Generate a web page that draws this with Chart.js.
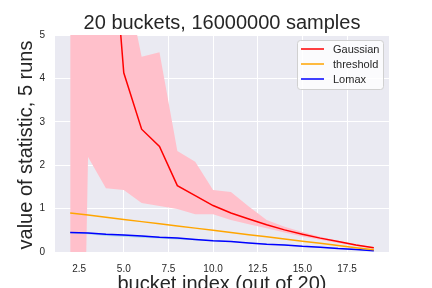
<!DOCTYPE html>
<html lang="en">
<head>
  <meta charset="UTF-8" />
  <title>20 buckets</title>
  <script src="https://cdn.jsdelivr.net/npm/chart.js"></script>
  <style>
    body { margin: 0; background: white; }
    canvas { display: block; }
  </style>
</head>
<body>
  <canvas id="statChart" width="432" height="288"></canvas>

  <script>
    // data
    const buckets = [2, 3, 4, 5, 6, 7, 8, 9, 10, 11, 12, 13, 14, 15, 16, 17, 18, 19];
    const gaussMean = [40, 20, 9.3, 4.13, 2.83, 2.43, 1.53, 1.3, 1.07, 0.9, 0.76, 0.63, 0.51, 0.41, 0.32, 0.24, 0.16, 0.1];
    const gaussLow = [-20, 2.19, 1.47, 1.43, 1.13, 1.06, 0.99, 0.87, 0.87, 0.74, 0.64, 0.55, 0.45, 0.36, 0.28, 0.21, 0.14, 0.08];
    const gaussHigh = [50, 30, 15, 6.5, 4.5, 4.6, 2.33, 2.08, 1.43, 1.38, 1.05, 0.74, 0.58, 0.46, 0.35, 0.26, 0.18, 0.11];
    const threshold = [0.90, 0.85, 0.80, 0.75, 0.70, 0.65, 0.60, 0.55, 0.50, 0.45, 0.40, 0.35, 0.30, 0.25, 0.20, 0.15, 0.10, 0.05];
    const lomaxMean = [0.45, 0.44, 0.41, 0.39, 0.37, 0.34, 0.32, 0.29, 0.26, 0.24, 0.21, 0.18, 0.16, 0.13, 0.11, 0.08, 0.06, 0.03];
    const lomaxLow = [0.43, 0.41, 0.37, 0.35, 0.33, 0.31, 0.29, 0.27, 0.25, 0.23, 0.20, 0.17, 0.15, 0.12, 0.10, 0.07, 0.05, 0.02];
    const lomaxHigh = [0.46, 0.45, 0.42, 0.40, 0.38, 0.35, 0.33, 0.30, 0.27, 0.25, 0.22, 0.19, 0.17, 0.14, 0.12, 0.09, 0.07, 0.04];
    const xTicks = [2.5, 5, 7.5, 10, 12.5, 15, 17.5];
    const yTicks = [0, 1, 2, 3, 4, 5];

    const pts = arr => arr.map((v, i) => ({ x: buckets[i], y: v }));
    const FONT = "'Liberation Sans', Arial, sans-serif";

    // plot background + titles + legend box
    const decor = {
      id: "decor",
      beforeDraw(chart) {
        const { ctx, chartArea: a } = chart;
        ctx.save();
        ctx.fillStyle = "#EAEAF2";
        ctx.fillRect(a.left, a.top, a.right - a.left, a.bottom - a.top);
        ctx.restore();
      },
      afterDraw(chart) {
        const { ctx, chartArea: a } = chart;
        ctx.save();
        ctx.fillStyle = "#262626";
        ctx.font = "20px " + FONT;
        ctx.textAlign = "center";
        ctx.textBaseline = "alphabetic";
        ctx.fillText("20 buckets, 16000000 samples", (a.left + a.right) / 2, 28.5);
        ctx.fillText("bucket index (out of 20)", (a.left + a.right) / 2, 290);
        ctx.save();
        ctx.translate(32, 145);
        ctx.rotate(-Math.PI / 2);
        ctx.fillText("value of statistic, 5 runs", 0, 0);
        ctx.restore();

        // legend
        const bx = 297.5, by = 40.5, bw = 86, bh = 49;
        ctx.beginPath();
        ctx.roundRect(bx, by, bw, bh, 3);
        ctx.fillStyle = "rgba(255,255,255,0.8)";
        ctx.fill();
        ctx.strokeStyle = "#D0D0D0";
        ctx.lineWidth = 1;
        ctx.stroke();
        ctx.font = "11px " + FONT;
        ctx.textAlign = "left";
        ctx.textBaseline = "middle";
        const items = chart.data.datasets.filter(d => d.label);
        items.forEach((d, i) => {
          const y = 49 + i * 15;
          ctx.strokeStyle = d.borderColor;
          ctx.lineWidth = 1.5;
          ctx.beginPath();
          ctx.moveTo(301, y);
          ctx.lineTo(324, y);
          ctx.stroke();
          ctx.fillStyle = "#262626";
          ctx.fillText(d.label, 333, y + 0.5);
        });
        ctx.restore();
      }
    };

    new Chart(document.getElementById("statChart"), {
      type: "line",
      data: {
        datasets: [
          { label: "Gaussian", data: pts(gaussMean), borderColor: "#FF0000", borderWidth: 1.5, pointRadius: 0, order: 0 },
          { label: "threshold", data: pts(threshold), borderColor: "#FFA500", borderWidth: 1.5, pointRadius: 0, order: 0 },
          { label: "Lomax", data: pts(lomaxMean), borderColor: "#0000FF", borderWidth: 1.5, pointRadius: 0, order: 0 },
          { data: pts(gaussHigh), borderWidth: 0, pointRadius: 0, fill: 4, backgroundColor: "#FFC0CB", order: 2 },
          { data: pts(gaussLow), borderWidth: 0, pointRadius: 0, fill: false, order: 2 },
          { data: pts(lomaxHigh), borderWidth: 0, pointRadius: 0, fill: 6, backgroundColor: "#ADD8E6", order: 1 },
          { data: pts(lomaxLow), borderWidth: 0, pointRadius: 0, fill: false, order: 1 }
        ]
      },
      options: {
        responsive: false,
        animation: false,
        devicePixelRatio: 1,
        layout: { padding: { left: 0, right: 43, top: 35, bottom: 0 } },
        plugins: { legend: { display: false }, title: { display: false }, tooltip: { enabled: false } },
        scales: {
          x: {
            type: "linear",
            min: 1.15,
            max: 19.85,
            border: { display: false },
            grid: { color: "#FFFFFF", lineWidth: 1, drawTicks: false },
            ticks: { color: "#262626", font: { family: FONT, size: 10 }, padding: 11, maxRotation: 0,
                      callback: v => v.toFixed(1) },
            afterBuildTicks: s => { s.ticks = xTicks.map(v => ({ value: v })); },
            afterFit: s => { s.height = 36; }
          },
          y: {
            min: 0,
            max: 5,
            border: { display: false },
            grid: { color: "#FFFFFF", lineWidth: 1, drawTicks: false },
            ticks: { color: "#262626", font: { family: FONT, size: 10 }, padding: 10,
                      callback: v => String(v) },
            afterBuildTicks: s => { s.ticks = yTicks.map(v => ({ value: v })); },
            afterFit: s => { s.width = 55; }
          }
        }
      },
      plugins: [decor]
    });
  </script>
</body>
</html>
